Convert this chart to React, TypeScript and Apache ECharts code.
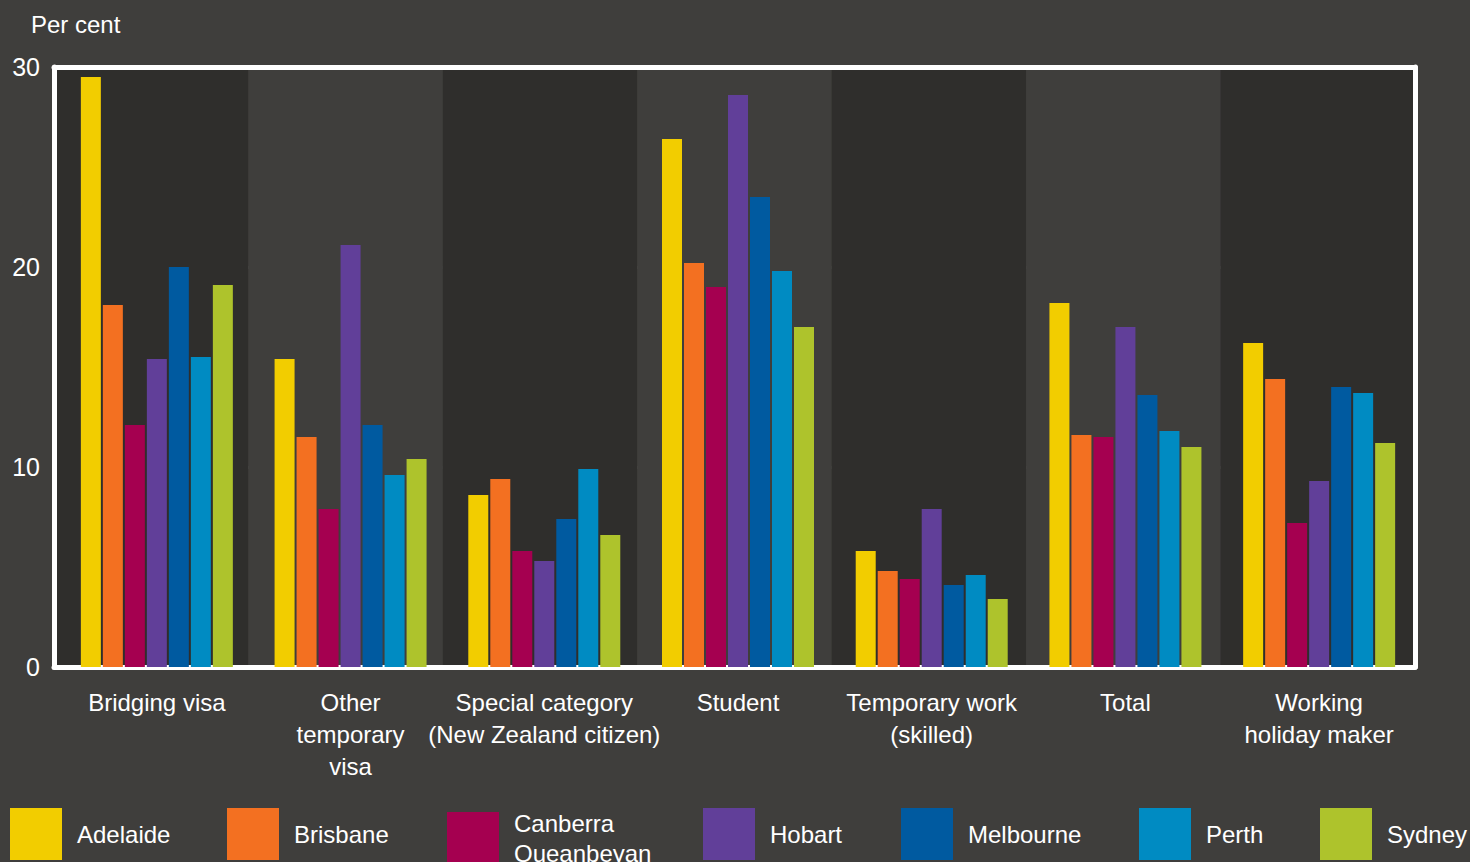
import React, { useEffect, useRef } from "react";
import * as echarts from "echarts";

const categories = [
  "Bridging visa",
  "Other\ntemporary\nvisa",
  "Special category\n(New Zealand citizen)",
  "Student",
  "Temporary work\n(skilled)",
  "Total",
  "Working\nholiday maker",
];

const cities = ["Adelaide", "Brisbane", "Canberra Queanbeyan", "Hobart", "Melbourne", "Perth", "Sydney"];
const cityColors = ["#f2cd00", "#f37021", "#a50050", "#613f99", "#005aa0", "#008bc2", "#aec32c"];

const adelaide = [29.5, 15.4, 8.6, 26.4, 5.8, 18.2, 16.2];
const brisbane = [18.1, 11.5, 9.4, 20.2, 4.8, 11.6, 14.4];
const canberra = [12.1, 7.9, 5.8, 19.0, 4.4, 11.5, 7.2];
const hobart = [15.4, 21.1, 5.3, 28.6, 7.9, 17.0, 9.3];
const melbourne = [20.0, 12.1, 7.4, 23.5, 4.1, 13.6, 14.0];
const perth = [15.5, 9.6, 9.9, 19.8, 4.6, 11.8, 13.7];
const sydney = [19.1, 10.4, 6.6, 17.0, 3.4, 11.0, 11.2];
const seriesValues = [adelaide, brisbane, canberra, hobart, melbourne, perth, sydney];

const yTicks = [0, 10, 20, 30];
const legendLeft = [10, 227, 447, 703, 901, 1139, 1320];

const FONT = "'Liberation Sans Narrow', 'Arial Narrow', 'Liberation Sans', sans-serif";
const BG = "#3f3e3c";
const DARK = "#2f2e2c";

export default function App() {
  const ref = useRef<HTMLDivElement>(null);
  useEffect(() => {
    if (!ref.current) return;
    const chart = echarts.init(ref.current, null, { renderer: "svg" });
    const borderLine = { show: true, onZero: false, lineStyle: { color: "#ffffff", width: 5 } };
    const yBase = {
      type: "value",
      min: yTicks[0],
      max: yTicks[yTicks.length - 1],
      interval: 10,
      axisTick: { show: false },
    };
    chart.setOption({
      animation: false,
      backgroundColor: BG,
      textStyle: { fontFamily: FONT },
      title: {
        text: "Per cent",
        left: 31,
        top: 12,
        padding: 0,
        textStyle: { color: "#ffffff", fontSize: 24, fontWeight: "normal", fontFamily: FONT },
      },
      grid: [
        { left: 54, right: 55, top: 67, bottom: 195, containLabel: false },
        { left: 60, right: 54, top: 67, bottom: 195, containLabel: false },
      ],
      legend: cities.map((c, i) => ({
        data: [c],
        left: legendLeft[i],
        top: 808,
        padding: 0,
        icon: "rect",
        itemWidth: 52,
        itemHeight: 52,
        selectedMode: false,
        formatter: (n: string) => n.replace(" ", "\n"),
        textStyle: {
          color: "#ffffff",
          fontSize: 24,
          fontFamily: FONT,
          lineHeight: 30,
          padding: [0, 0, 0, 10],
        },
      })),
      xAxis: [
        {
          type: "category",
          gridIndex: 0,
          data: categories,
          position: "bottom",
          axisLine: borderLine,
          axisTick: { show: false },
          axisLabel: { show: false },
          splitArea: { show: true, areaStyle: { color: [DARK, BG] } },
          splitLine: { show: false },
        },
        {
          type: "category",
          gridIndex: 0,
          data: categories,
          position: "top",
          axisLine: borderLine,
          axisTick: { show: false },
          axisLabel: { show: false },
        },
        {
          type: "category",
          gridIndex: 1,
          data: categories,
          position: "bottom",
          axisLine: { show: false },
          axisTick: { show: false },
          axisLabel: {
            color: "#ffffff",
            fontSize: 24,
            fontFamily: FONT,
            lineHeight: 32,
            margin: 19,
            interval: 0,
          },
          splitArea: { show: false },
          splitLine: { show: false },
        },
      ],
      yAxis: [
        {
          ...yBase,
          gridIndex: 0,
          position: "left",
          axisLine: borderLine,
          axisLabel: { color: "#ffffff", fontSize: 25, fontFamily: FONT, margin: 14 },
          splitLine: { show: true, lineStyle: { color: "#575655", width: 3 } },
        },
        {
          ...yBase,
          gridIndex: 0,
          position: "right",
          axisLine: borderLine,
          axisLabel: { show: false },
          splitLine: { show: false },
        },
        {
          ...yBase,
          gridIndex: 1,
          position: "left",
          axisLine: { show: false },
          axisLabel: { show: false },
          splitLine: { show: false },
        },
      ],
      series: cities.map((c, i) => ({
        name: c,
        type: "bar",
        xAxisIndex: 2,
        yAxisIndex: 2,
        data: seriesValues[i],
        barWidth: 20,
        barGap: "10%",
        itemStyle: { color: cityColors[i] },
      })),
    });
    return () => chart.dispose();
  }, []);
  return <div ref={ref} style={{ width: 1470, height: 862, position: "fixed", left: 0, top: 0 }} />;
}
